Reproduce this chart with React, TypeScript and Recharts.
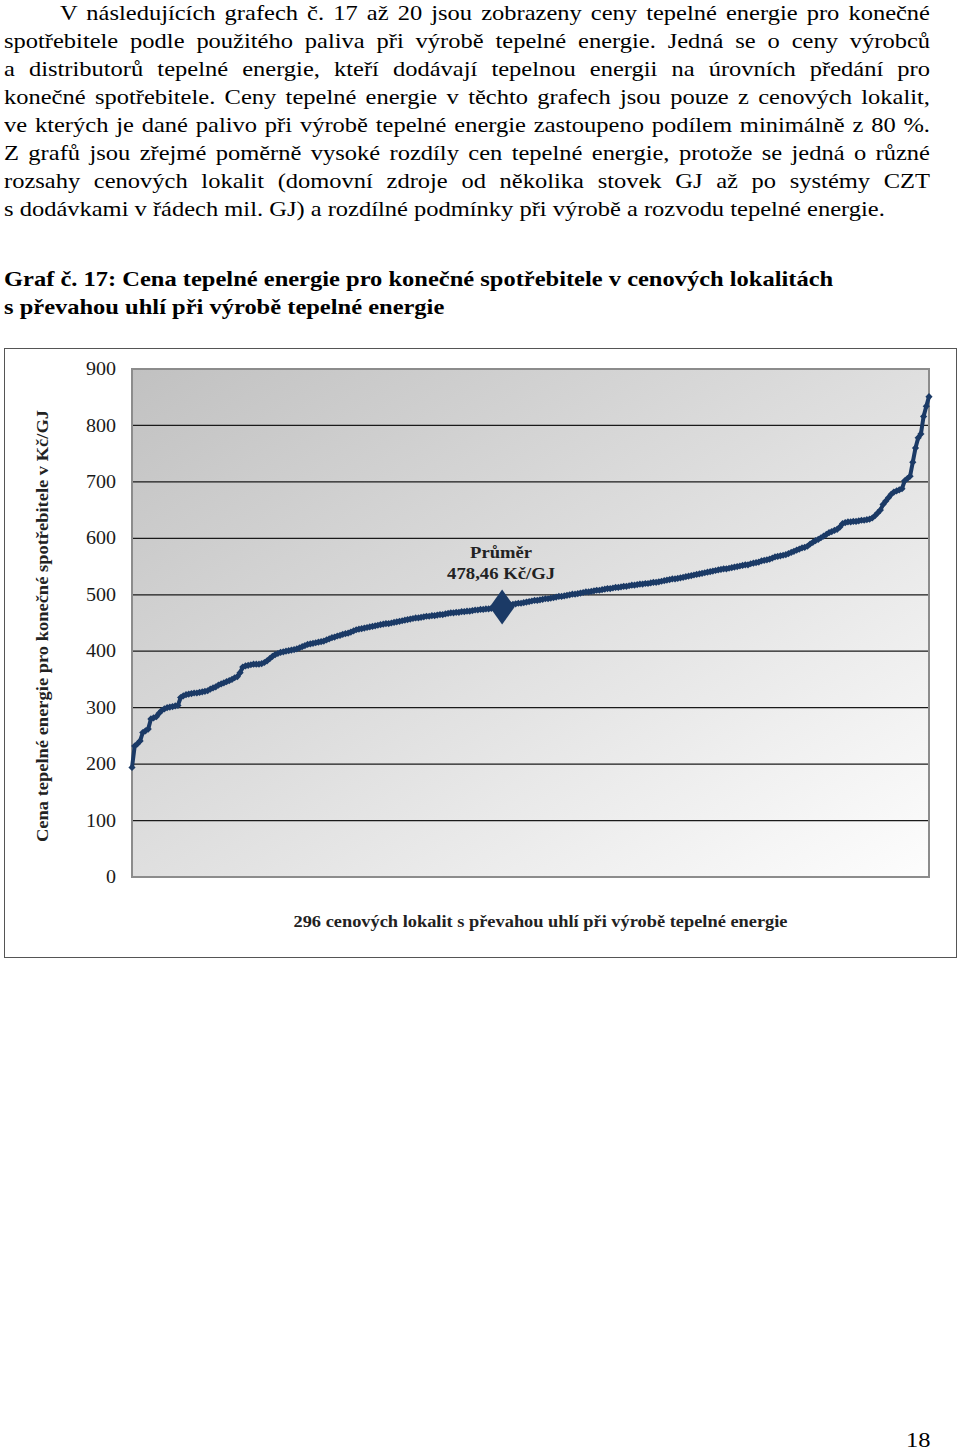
import React from "react";
import {
  LineChart,
  Line,
  XAxis,
  YAxis,
  CartesianGrid,
  ReferenceDot,
  ReferenceArea,
} from "recharts";

const paragraphLines = [
  "V následujících grafech č. 17 až 20 jsou zobrazeny ceny tepelné energie pro konečné",
  "spotřebitele podle použitého paliva při výrobě tepelné energie. Jedná se o ceny výrobců",
  "a distributorů tepelné energie, kteří dodávají tepelnou energii na úrovních předání pro",
  "konečné spotřebitele. Ceny tepelné energie v těchto grafech jsou pouze z cenových lokalit,",
  "ve kterých je dané palivo při výrobě tepelné energie zastoupeno podílem minimálně z 80 %.",
  "Z grafů jsou zřejmé poměrně vysoké rozdíly cen tepelné energie, protože se jedná o různé",
  "rozsahy cenových lokalit (domovní zdroje od několika stovek GJ až po systémy CZT",
  "s dodávkami v řádech mil. GJ) a rozdílné podmínky při výrobě a rozvodu tepelné energie.",
];

const headingLines = [
  "Graf č. 17: Cena tepelné energie pro konečné spotřebitele v cenových lokalitách",
  "s převahou uhlí při výrobě tepelné energie",
];

const pageNumber = "18";

const yTicks = [0, 100, 200, 300, 400, 500, 600, 700, 800, 900];
const gridValues = [100, 200, 300, 400, 500, 600, 700, 800];

const yAxisTitle = "Cena tepelné energie pro konečné spotřebitele v Kč/GJ";
const xAxisTitle = "296 cenových lokalit s převahou uhlí při výrobě tepelné energie";

// ceny seřazené vzestupně, 296 lokalit (Kč/GJ)
const prices = [
  194, 232, 236, 241, 256, 259, 262, 280, 282, 284, 290, 295, 298, 300, 301, 302, 303, 304, 318, 321,
  323, 324, 325, 326, 326, 327, 328, 329, 330, 333, 335, 337, 340, 342, 344, 346, 348, 350, 353, 355,
  362, 372, 374, 375, 376, 377, 377, 377, 378, 380, 383, 387, 391, 394, 396, 398, 399, 400, 401, 402,
  403, 404, 406, 408, 410, 412, 413, 414, 415, 416, 417, 418, 420, 422, 424, 425, 427, 428, 430, 431,
  432, 434, 436, 438, 439, 440, 441, 442, 443, 444, 445, 446, 447, 448, 449, 449, 450, 451, 452, 453,
  454, 455, 456, 457, 458, 459, 459, 460, 461, 462, 462, 463, 463, 464, 465, 465, 466, 467, 468, 468,
  469, 469, 470, 470, 471, 471, 472, 473, 473, 474, 474, 475, 475, 476, 477, 477, 478, 478, 480, 481,
  482, 483, 484, 485, 485, 486, 487, 488, 489, 490, 490, 491, 492, 493, 493, 494, 495, 496, 497, 497,
  498, 499, 500, 501, 501, 502, 503, 504, 505, 505, 506, 507, 508, 508, 509, 510, 511, 511, 512, 513,
  513, 514, 515, 515, 516, 517, 517, 518, 519, 519, 520, 520, 521, 522, 522, 523, 524, 525, 526, 527,
  528, 528, 529, 530, 531, 532, 533, 534, 535, 536, 537, 538, 539, 540, 541, 542, 543, 544, 545, 546,
  546, 547, 548, 549, 550, 551, 552, 553, 553, 555, 556, 557, 558, 560, 561, 562, 563, 565, 567, 568,
  569, 570, 571, 573, 575, 577, 579, 581, 583, 584, 586, 590, 593, 596, 598, 601, 604, 607, 610, 612,
  614, 616, 620, 626, 628, 629, 629, 630, 630, 631, 632, 632, 633, 634, 636, 640, 645, 650, 660, 666,
  672, 678, 682, 684, 686, 688, 702, 706, 710, 735, 760, 778, 785, 816, 834, 851,
];

const meanIndex = 137;
const meanValue = 478.46;
const meanLabel = ["Průměr", "478,46 Kč/GJ"];

const NAVY = "#1b3a66";
const SERIF = "'Liberation Serif', 'Times New Roman', serif";
const STRETCH = 1.113; // the page scan is a bit wider than the font

const data = prices.map((price, i) => ({ i, price }));

const SmallDiamond = (props: any) => {
  const { cx, cy, index } = props;
  if (cx == null || cy == null) return null;
  const r = 3.6;
  return (
    <path
      key={`d-${index}`}
      d={`M${cx},${cy - r}L${cx + r},${cy}L${cx},${cy + r}L${cx - r},${cy}Z`}
      fill={NAVY}
    />
  );
};

const MeanMarker = (props: any) => {
  const { cx, cy } = props;
  const txt = {
    textAnchor: "middle" as const,
    dominantBaseline: "central" as const,
    fontFamily: SERIF,
    fontWeight: "bold",
    fontSize: 17,
    fill: "#222",
    lengthAdjust: "spacingAndGlyphs" as const,
  };
  return (
    <g>
      <path
        d={`M${cx},${cy - 17.5}L${cx + 12.5},${cy}L${cx},${cy + 17.5}L${cx - 12.5},${cy}Z`}
        fill={NAVY}
      />
      <text x={cx - 1} y={cy - 54} textLength={62} {...txt}>
        {meanLabel[0]}
      </text>
      <text x={cx - 1} y={cy - 33} textLength={108} {...txt}>
        {meanLabel[1]}
      </text>
    </g>
  );
};

const YTick = (props: any) => {
  const { x, y, payload } = props;
  return (
    <text
      transform={`translate(${x},${y}) scale(${STRETCH},1)`}
      textAnchor="end"
      dominantBaseline="central"
      fontFamily={SERIF}
      fontSize={18}
      fill="#1a1a1a"
    >
      {payload.value}
    </text>
  );
};

const YTitle = (props: any) => {
  const { viewBox } = props;
  const cy = viewBox.y + viewBox.height / 2 + 3;
  const cx = 37;
  return (
    <text
      x={cx}
      y={cy}
      transform={`rotate(-90 ${cx} ${cy})`}
      textAnchor="middle"
      dominantBaseline="central"
      fontFamily={SERIF}
      fontWeight="bold"
      fontSize={17}
      fill="#222"
      textLength={432}
      lengthAdjust="spacingAndGlyphs"
    >
      {yAxisTitle}
    </text>
  );
};

const XTitle = (props: any) => {
  const { viewBox } = props;
  const cx = viewBox.x + viewBox.width / 2 + 10;
  const cy = viewBox.y + 44;
  return (
    <text
      x={cx}
      y={cy}
      textAnchor="middle"
      dominantBaseline="central"
      fontFamily={SERIF}
      fontWeight="bold"
      fontSize={17}
      fill="#222"
      textLength={494}
      lengthAdjust="spacingAndGlyphs"
    >
      {xAxisTitle}
    </text>
  );
};

export default function App() {
  return (
    <div
      style={{
        position: "absolute",
        left: 0,
        top: 0,
        width: 960,
        height: 1450,
        background: "#fff",
        fontFamily: SERIF,
        color: "#000",
      }}
    >
      <div
        style={{
          position: "absolute",
          left: 4,
          top: -1,
          width: 926 / STRETCH,
          fontSize: 22,
          lineHeight: "28px",
          transform: `scaleX(${STRETCH})`,
          transformOrigin: "0 0",
        }}
      >
        {paragraphLines.map((line, k) => {
          const last = k === paragraphLines.length - 1;
          return (
            <div
              key={k}
              style={{
                textAlign: last ? "left" : "justify",
                textAlignLast: last ? "left" : "justify",
                textIndent: k === 0 ? 56 / STRETCH : 0,
                whiteSpace: "nowrap",
              }}
            >
              {line}
            </div>
          );
        })}
      </div>

      <div
        style={{
          position: "absolute",
          left: 4,
          top: 265,
          fontSize: 22,
          lineHeight: "28px",
          fontWeight: "bold",
          whiteSpace: "nowrap",
          transform: `scaleX(${STRETCH})`,
          transformOrigin: "0 0",
        }}
      >
        {headingLines.map((line, k) => (
          <div key={k}>{line}</div>
        ))}
      </div>

      <div
        style={{
          position: "absolute",
          left: 4,
          top: 348,
          width: 953,
          height: 610,
          border: "1px solid #555",
          boxSizing: "border-box",
        }}
      >
        <LineChart
          width={951}
          height={608}
          data={data}
          margin={{ top: 20, right: 27, bottom: 0, left: 67 }}
        >
          <defs>
            <linearGradient id="plotBg" x1="0" y1="0" x2="1" y2="1">
              <stop offset="0%" stopColor="#c1c1c1" />
              <stop offset="55%" stopColor="#e2e2e2" />
              <stop offset="100%" stopColor="#fdfdfd" />
            </linearGradient>
          </defs>
          <CartesianGrid
            vertical={false}
            horizontalValues={gridValues}
            stroke="#1a1a1a"
            strokeWidth={1.3}
            fill="url(#plotBg)"
            fillOpacity={1}
          />
          <XAxis
            type="number"
            dataKey="i"
            domain={[0, prices.length - 1]}
            tick={false}
            axisLine={false}
            tickLine={false}
            height={80}
            label={<XTitle />}
          />
          <YAxis
            type="number"
            domain={[0, 900]}
            ticks={yTicks}
            width={60}
            axisLine={false}
            tickLine={false}
            tickSize={6}
            tickMargin={10}
            tick={<YTick />}
            label={<YTitle />}
          />
          <ReferenceArea
            x1={0}
            x2={prices.length - 1}
            y1={0}
            y2={900}
            fill="none"
            stroke="#8c8c8c"
            strokeWidth={2}
            fillOpacity={0}
          />
          <Line
            type="linear"
            dataKey="price"
            stroke={NAVY}
            strokeWidth={4}
            dot={SmallDiamond}
            activeDot={false}
            isAnimationActive={false}
          />
          <ReferenceDot
            x={meanIndex}
            y={meanValue}
            r={12}
            shape={MeanMarker}
          />
        </LineChart>
      </div>

      <div
        style={{
          position: "absolute",
          left: 906,
          top: 1430,
          fontSize: 22,
          lineHeight: "20px",
          whiteSpace: "nowrap",
          transform: `scaleX(${STRETCH})`,
          transformOrigin: "0 0",
        }}
      >
        {pageNumber}
      </div>
    </div>
  );
}
